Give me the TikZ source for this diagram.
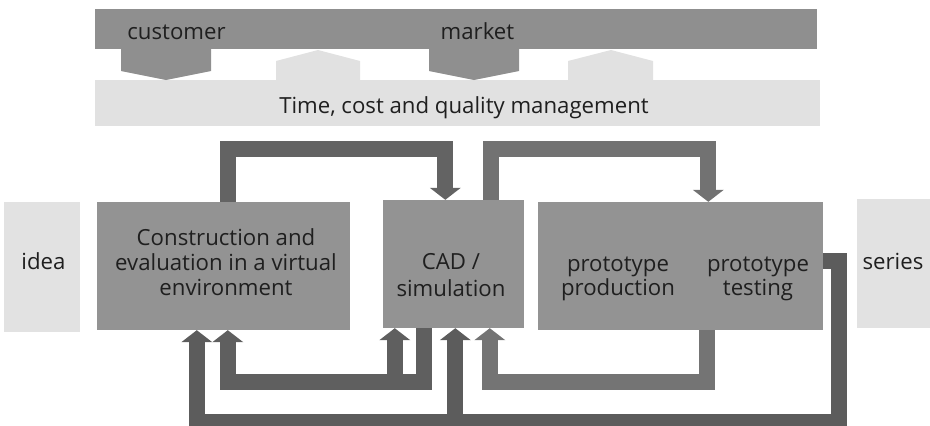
\documentclass[tikz,border=0pt]{standalone}
\usepackage{fontspec}
\setmainfont{Open Sans}
\usetikzlibrary{arrows.meta,calc}

\definecolor{bardark}{HTML}{8F8F8F}
\definecolor{barlight}{HTML}{E1E1E1}
\definecolor{boxgray}{HTML}{939393}
\definecolor{sidegray}{HTML}{E2E2E2}
\definecolor{ink}{HTML}{1F1F1F}
\definecolor{flowtopl}{HTML}{636363}
\definecolor{flowtopr}{HTML}{727272}
\definecolor{flowinner}{HTML}{5F5F5F}
\definecolor{flowproto}{HTML}{747474}
\definecolor{flowouter}{HTML}{5C5C5C}

\tikzset{
  stage/.style={fill=boxgray, draw=none, inner sep=0pt},
  endpoint/.style={fill=sidegray, draw=none, inner sep=0pt},
  txt/.style={text=ink, inner sep=0pt, anchor=base, font=\fontsize{22.2}{25}\selectfont},
  flow/.style={line width=16pt, line join=miter, draw=#1,
    -{Triangle[width=31pt,length=12pt,line width=0pt]}},
}

\begin{document}
\begin{tikzpicture}[x=1pt,y=-1pt]
\useasboundingbox (0,0) rectangle (930,426);

% upper bars with their connecting tabs
\fill[bardark] (95,9) rectangle (817,49);
\fill[barlight] (95,80) rectangle (820,126);
\fill[bardark] (121,48) -- (211,48) -- (211,71) -- (166,80) -- (121,71) -- cycle;
\fill[bardark] (429,48) -- (519,48) -- (519,71) -- (474,80) -- (429,71) -- cycle;
\fill[barlight] (276,81) -- (276,61) -- (318,50) -- (360,61) -- (360,81) -- cycle;
\fill[barlight] (568,81) -- (568,61) -- (611,50) -- (653,61) -- (653,81) -- cycle;

\node[txt] (customer) at (176.5,39) {customer};
\node[txt] (market) at (477.5,39) {market};
\node[txt] (tcq) at (464,113) {Time, cost and quality management};

% process stages
\node[endpoint, minimum width=76pt, minimum height=130pt] (idea) at (42,267) {};
\node[stage, minimum width=253pt, minimum height=128pt] (cons) at (223.5,266) {};
\node[stage, minimum width=141pt, minimum height=128pt] (cad) at (453.5,264) {};
\node[stage, minimum width=285pt, minimum height=128pt] (proto) at (680.5,266) {};
\node[endpoint, minimum width=75pt, minimum height=129pt] (series) at (894.5,263.5) {};

\node[txt] (ideatxt) at (43.5,269) {idea};
\node[txt] (cons1) at (226,245) {Construction and};
\node[txt] (cons2) at (226,270) {evaluation in a virtual};
\node[txt] (cons3) at (226,295) {environment};
\node[txt] (cad1) at (451,269) {CAD /};
\node[txt] (cad2) at (451,296) {simulation};
\node[txt] (prod1) at (618,271) {prototype};
\node[txt] (prod2) at (618,295) {production};
\node[txt] (test1) at (758,271) {prototype};
\node[txt] (test2) at (758,295) {testing};
\node[txt] (seriestxt) at (893,269) {series};

% forward flows over the top
\draw[flow=flowtopl] ($(cons.north west)+(131,0)$) -- ++(0,-53)
  -| ($(cad.north west)+(62.5,0)$);
\draw[flow=flowtopr] ($(cad.north west)+(108,0)$) -- ++(0,-51)
  -| ($(proto.north west)+(170.5,0)$);

% feedback from prototype testing to CAD and construction
\draw[flow=flowouter] ($(proto.south east)+(0,-69.5)$) -- ++(15.5,0)
  -- ++(0,161) -| ($(cons.south west)+(100,0)$);
\draw[flow=flowouter] ($(cad.south west)+(72.5,93.5)$) -- ($(cad.south west)+(72.5,0)$);

% feedback from CAD to construction and back into CAD
\draw[flow=flowinner] ($(cad.south west)+(41,0)$) -- ++(0,54)
  -| ($(cons.south west)+(131,0)$);
\draw[flow=flowinner] ($(cad.south west)+(12,54)$) -- ($(cad.south west)+(12,0)$);

% feedback from prototype production to CAD
\draw[flow=flowproto] ($(proto.south west)+(169.5,0)$) -- ++(0,52)
  -| ($(cad.south west)+(107,0)$);
\end{tikzpicture}
\end{document}
